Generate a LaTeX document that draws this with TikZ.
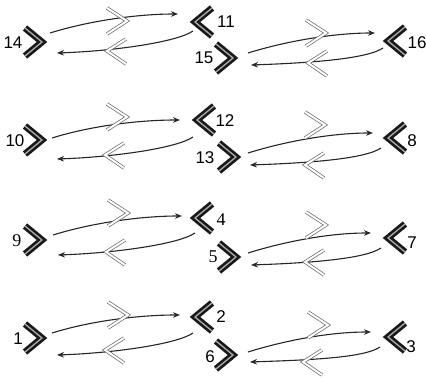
\documentclass[tikz,border=0pt]{standalone}
\usepackage{fontspec}
\setmainfont{Liberation Sans}
\newfontfamily\serifdig{Liberation Serif}
\usetikzlibrary{arrows.meta}
\begin{document}
\begin{tikzpicture}[x=1pt,y=-1pt,
  bigchev/.style={draw=black!90,line width=2.7pt,double=gray!65,double distance=1.3pt,line join=miter,line cap=butt},
  smallchev/.style={draw=black!60,line width=0.7pt,double=white,double distance=2pt,line join=miter},
  upconn/.style={draw=black!85,line width=1.1pt,-{Stealth[length=7pt,width=5.5pt]}},
  lab/.style={font=\fontsize{17}{17}\selectfont,inner sep=0pt},
  slab/.style={font=\fontsize{18}{18}\selectfont\serifdig,inner sep=0pt}]
\useasboundingbox (0,0) rectangle (426,379);

% ---- big chevron tips (centre line) ----
\foreach \n/\x/\y in {14/42/42,10/42/140,9/42/240,1/42/338,
                      15/233/58,13/236/157,5/236/257,6/233/355}{
  \coordinate (c\n) at (\x,\y);
  \draw[bigchev] (c\n) +(-17,-14) -- (c\n) -- +(-17,14);
}
\foreach \n/\x/\y in {11/195/22,12/197/120,4/195/218,2/195/317,
                      16/388/41,8/388/138,7/388/238,3/388/337}{
  \coordinate (c\n) at (\x,\y);
  \draw[bigchev] (c\n) +(17,-14) -- (c\n) -- +(17,14);
}

% ---- labels ----
\node[lab] (l14) at (13,43) {14};
\node[lab] (l11) at (226,22) {11};
\node[lab] (l15) at (204,58) {15};
\node[lab] (l16) at (417,43) {16};
\node[lab] (l10) at (15,141) {10};
\node[lab] (l12) at (225,121) {12};
\node[lab] (l13) at (205,158) {13};
\node[lab] (l8) at (412,141) {8};
\node[slab] (l9) at (17,241) {9};
\node[slab] (l4) at (221,220) {4};
\node[slab] (l5) at (213,257) {5};
\node[lab] (l7) at (412,243) {7};
\node[lab] (l1) at (18,339) {1};
\node[lab] (l2) at (221,317) {2};
\node[lab] (l6) at (210,357) {6};
\node[lab] (l3) at (411,347) {3};

% ---- connector end points ----
\foreach \n/\sx/\sy/\ex/\ey in {a/50/33/178/14, b/52/138/180/120, c/53/235/182/216, d/52/333/180/315,
                                e/248/53/375/33, f/248/153/373/133, g/248/253/371/233, h/248/352/371/332}{
  \coordinate (\n us) at (\sx,\sy);
  \coordinate (\n ue) at (\ex,\ey);
  \draw[upconn] (\n us) .. controls +(42,-13) and +(-38,0) .. (\n ue);
}
\foreach \n/\sx/\sy/\ex/\ey in {a/193/31/57/53, b/193/137/57/159, c/195/233/58/255, d/193/333/57/355,
                                e/383/48/251/65, f/381/148/250/165, g/381/248/251/265, h/380/347/250/362}{
  \coordinate (\n ls) at (\sx,\sy);
  \coordinate (\n le) at (\ex,\ey);
  \draw[upconn] (\n ls) .. controls +(-16,11) and +(58,-2) .. (\n le);
}

% ---- small chevrons on the connectors ----
\foreach \x/\y in {127/21,127/117,128/213,128/315,326/33,325/125,326/225,328/325}{
  \draw[smallchev] (\x,\y) +(-20,-13) -- (\x,\y) -- +(-20,13);
}
\foreach \x/\y in {107/51,105/155,106/252,105/350,308/63,305/165,305/262,303/362}{
  \draw[smallchev] (\x,\y) +(19,-12) -- (\x,\y) -- +(19,13);
}
\end{tikzpicture}
\end{document}
